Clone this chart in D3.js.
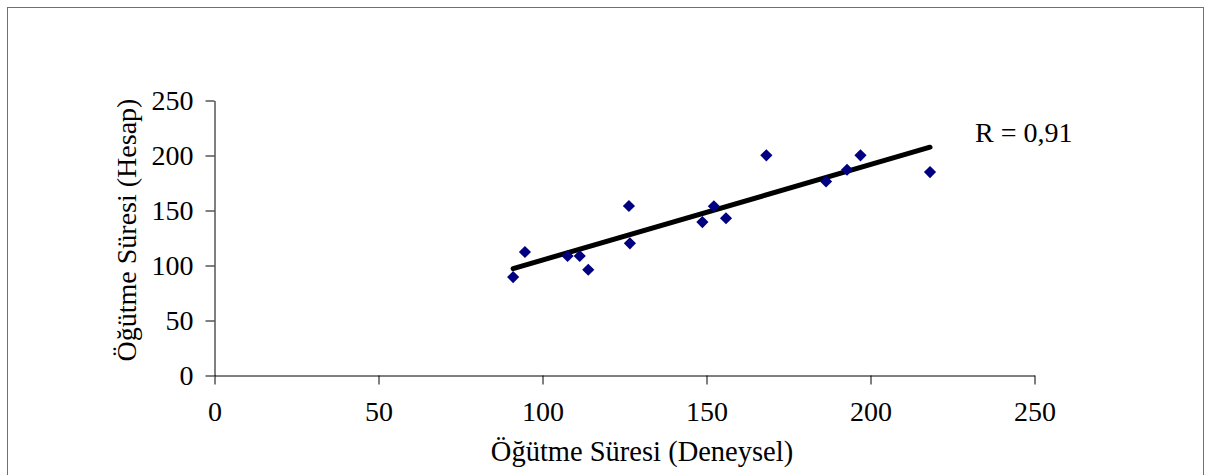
<!DOCTYPE html>
<html>
<head>
<meta charset="utf-8">
<script src="https://cdn.jsdelivr.net/npm/d3@7"></script>
<style>
  body { margin: 0; background: #fff; }
  svg text { font-family: "Liberation Serif", "Times New Roman", serif; fill: #000; }
</style>
</head>
<body>
<div id="chart"></div>
<script>
// measured (Deneysel) vs calculated (Hesap) grinding times
const deneysel = [91.2, 94.8, 107.8, 111.5, 114.1, 126.5, 126.8, 148.9, 152.4, 156.1, 168.4, 186.6, 193.0, 197.1, 218.3];
const hesap    = [89.0, 111.8, 108.2, 108.2, 95.7, 153.6, 119.7, 139.0, 153.4, 142.5, 199.7, 176.0, 186.6, 199.7, 184.5];
const xTicks = [0, 50, 100, 150, 200, 250];
const yTicks = [0, 50, 100, 150, 200, 250];
const rLabel = "R = 0,91";

const width = 1206, height = 475;
const svg = d3.select("#chart").append("svg")
    .attr("width", width)
    .attr("height", height);

// outer frame
svg.append("rect")
    .attr("x", 7.5).attr("y", 7.5)
    .attr("width", 1196).attr("height", 490)
    .attr("fill", "none")
    .attr("stroke", "#707070");

const x = d3.scaleLinear().domain([0, 250]).range([214, 1034]);
const y = d3.scaleLinear().domain([0, 250]).range([375, 100]);

const xAxis = svg.append("g")
    .attr("transform", "translate(0.5,375.5)")
    .call(d3.axisBottom(x).tickValues(xTicks).tickSize(9).tickSizeOuter(0).tickPadding(17));
const yAxis = svg.append("g")
    .attr("transform", "translate(214.5,0.5)")
    .call(d3.axisLeft(y).tickValues(yTicks).tickSize(9).tickSizeOuter(0).tickPadding(12));

[xAxis, yAxis].forEach(g => {
    g.select(".domain").attr("stroke", "#000");
    g.selectAll(".tick line").attr("stroke", "#000");
    g.selectAll(".tick text")
        .style("font-family", "'Liberation Serif', serif")
        .style("font-size", "28px");
});

// linear trendline (least squares)
const mx = d3.mean(deneysel), my = d3.mean(hesap);
let sxy = 0, sxx = 0;
deneysel.forEach((v, i) => { sxy += (v - mx) * (hesap[i] - my); sxx += (v - mx) * (v - mx); });
const slope = sxy / sxx, icpt = my - slope * mx;
const [x0, x1] = d3.extent(deneysel);

svg.append("line")
    .attr("x1", x(x0)).attr("y1", y(icpt + slope * x0))
    .attr("x2", x(x1)).attr("y2", y(icpt + slope * x1))
    .attr("stroke", "#000")
    .attr("stroke-width", 5)
    .attr("stroke-linecap", "round");

// points
const diamond = d3.symbol().type(d3.symbolSquare).size(74);
svg.append("g")
    .selectAll("path")
    .data(deneysel)
    .enter().append("path")
    .attr("d", diamond)
    .attr("transform", (d, i) => `translate(${x(d)},${y(hesap[i])}) rotate(45)`)
    .attr("fill", "#000080");

svg.append("text")
    .attr("x", 975).attr("y", 142)
    .style("font-size", "28px")
    .text(rLabel);

svg.append("text")
    .attr("x", 642).attr("y", 461)
    .attr("text-anchor", "middle")
    .style("font-size", "28.5px")
    .text("Öğütme Süresi (Deneysel)");

svg.append("text")
    .attr("transform", "translate(136,230) rotate(-90)")
    .attr("text-anchor", "middle")
    .style("font-size", "28px")
    .text("Öğütme Süresi (Hesap)");
</script>
</body>
</html>
